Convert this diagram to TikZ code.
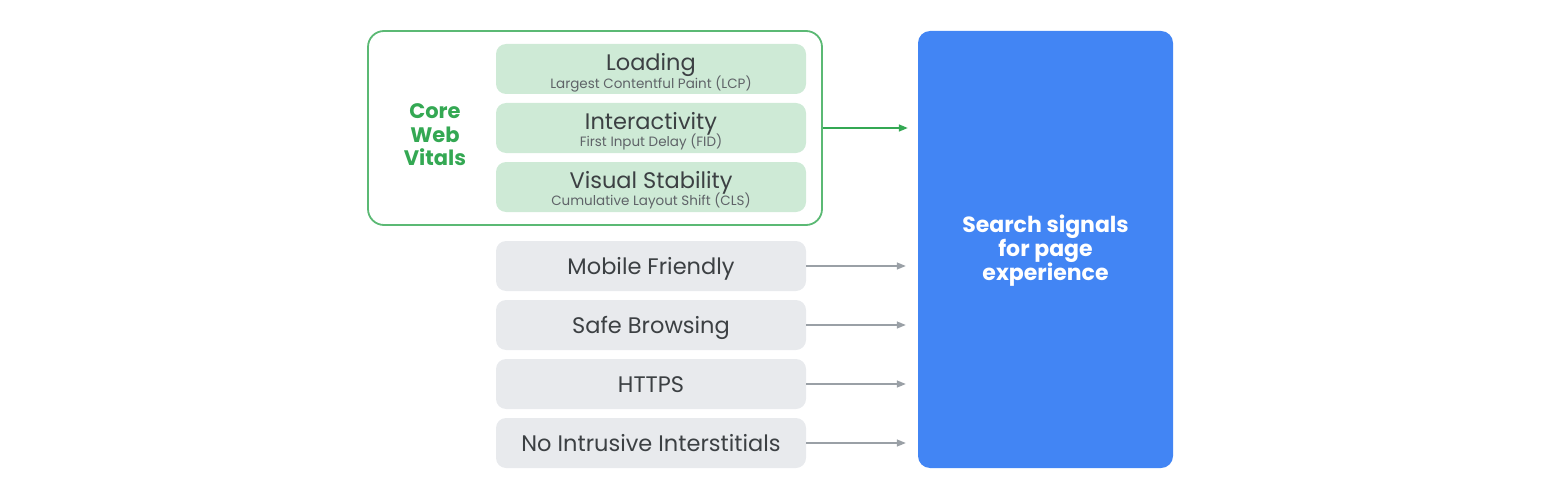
\documentclass[tikz,border=0pt]{standalone}
\usepackage{fontspec}
\setmainfont{Poppins}
\usetikzlibrary{arrows.meta}
\definecolor{gGreen}{HTML}{34A853}
\definecolor{gGreenLine}{HTML}{5BB974}
\definecolor{gGreenFill}{HTML}{CEEAD6}
\definecolor{gGrayFill}{HTML}{E8EAED}
\definecolor{gText}{HTML}{3C4043}
\definecolor{gSub}{HTML}{5F6368}
\definecolor{gBlue}{HTML}{4285F4}
\definecolor{gArrow}{HTML}{9AA0A6}
\tikzset{
  metricbox/.style={fill=gGreenFill, rounded corners=10pt, minimum width=310pt, minimum height=50pt, inner sep=0pt, align=center, text=gText},
  signalbox/.style={fill=gGrayFill, rounded corners=10pt, minimum width=310pt, minimum height=50pt, inner sep=0pt, align=center, text=gText, font=\fontsize{22.5}{26}\selectfont, text height=21pt, text depth=5pt},
  graylink/.style={draw=gArrow, line width=1.3pt, -{Triangle[length=9pt,width=7pt]}, shorten >=12pt},
  greenlink/.style={draw=gGreen, line width=1.5pt, -{Triangle[length=9pt,width=7pt]}, shorten >=10pt},
}
\newcommand{\mtitle}[1]{{\fontsize{22.5}{24}\selectfont\rule{0pt}{24pt}#1}}
\newcommand{\msub}[1]{{\fontsize{13.5}{15}\selectfont\color{gSub} #1}}
\begin{document}
\begin{tikzpicture}[x=1pt,y=-1pt]
\useasboundingbox (0,0) rectangle (1544,500);
% outer core web vitals frame
\node[draw=gGreenLine, line width=1.8pt, rounded corners=16pt, minimum width=454pt, minimum height=194pt, inner sep=0pt] (cwv) at (595,128) {};
\node[text=gGreen, font=\bfseries\fontsize{21}{23.5}\selectfont, align=center] (cwvlabel) at (435,135) {Core\\Web\\Vitals};
% metric boxes
\node[metricbox] (lcp) at (651,69) {\mtitle{Loading}\\[-2pt]\msub{Largest Contentful Paint (LCP)}};
\node[metricbox] (fid) at (651,128) {\mtitle{Interactivity}\\[-2pt]\msub{First Input Delay (FID)}};
\node[metricbox] (cls) at (651,187) {\mtitle{Visual Stability}\\[-2pt]\msub{Cumulative Layout Shift (CLS)}};
% signal boxes
\node[signalbox] (mobile) at (651,266) {Mobile Friendly};
\node[signalbox] (safe) at (651,325) {Safe Browsing};
\node[signalbox] (https) at (651,384) {HTTPS};
\node[signalbox] (nii) at (651,443) {No Intrusive Interstitials};
% target
\node[fill=gBlue, rounded corners=12pt, minimum width=255pt, minimum height=437pt, inner sep=0pt, text=white, font=\bfseries\fontsize{22}{24}\selectfont, align=center] (search) at (1045.5,249.5) {\rule{0pt}{20pt}Search signals\\for page\\experience};
% connectors
\draw[greenlink] (cwv.east) -- (cwv.east -| search.west);
\draw[graylink] (mobile.east) -- (mobile.east -| search.west);
\draw[graylink] (safe.east) -- (safe.east -| search.west);
\draw[graylink] (https.east) -- (https.east -| search.west);
\draw[graylink] (nii.east) -- (nii.east -| search.west);
\end{tikzpicture}
\end{document}
